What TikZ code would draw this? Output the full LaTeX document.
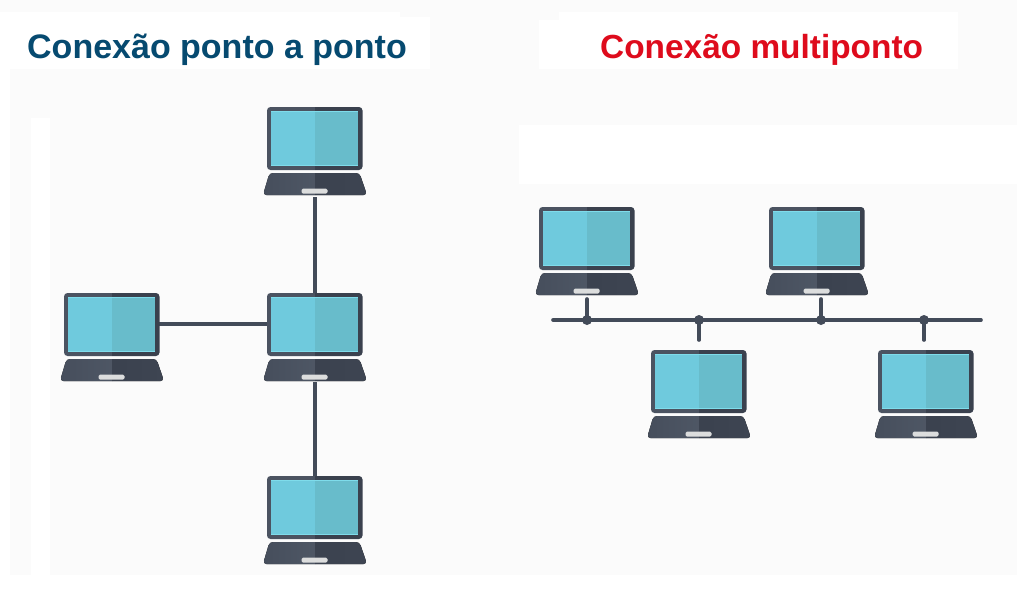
\documentclass[tikz,border=0pt]{standalone}
\usepackage{fontspec}
\setmainfont{Liberation Sans}
\usetikzlibrary{calc}
\definecolor{pagebg}{HTML}{FBFBFB}
\definecolor{wire}{HTML}{434B59}
\definecolor{frameL}{HTML}{4B5361}
\definecolor{frameR}{HTML}{3A414E}
\definecolor{baseLa}{HTML}{464E5C}
\definecolor{baseLb}{HTML}{565F6D}
\definecolor{baseRa}{HTML}{373E4B}
\definecolor{baseRb}{HTML}{3E4552}
\definecolor{screenL}{HTML}{6FCADD}
\definecolor{screenR}{HTML}{68BCCB}
\definecolor{screenEdge}{HTML}{7FDCEB}
\definecolor{padcol}{HTML}{DCDDDD}
\definecolor{titleblue}{HTML}{064A70}
\definecolor{titlered}{HTML}{DE0B1C}
\tikzset{
  wirelink/.style={draw=wire,line width=3.6pt,line cap=round},
  junction/.style={circle,fill=wire,draw=none,inner sep=0pt,minimum size=10pt},
  title/.style={anchor=base west,inner sep=0pt},
  hole/.style={fill=white,draw=none},
  anchorbox/.style={draw=none,inner sep=0pt,minimum width=102pt,minimum height=88pt},
  pics/laptop/.style={code={
    % origin: middle of the top edge of the screen
    \begin{scope}
      \clip (-60,-5) rectangle (0,100);
      \fill[frameL,rounded corners=3.5pt] (-48,0) rectangle (47.5,63);
      \fill[screenEdge] (-44,4) rectangle (43,59);
      \fill[screenL] (-44,5) rectangle (43,58);
      \fill[left color=baseLa,right color=baseLb,rounded corners=3.5pt]
        (-45.5,66) -- (44.5,66) -- (52,88) -- (-52,88) -- cycle;
    \end{scope}
    \begin{scope}
      \clip (0,-5) rectangle (60,100);
      \fill[frameR,rounded corners=3.5pt] (-48,0) rectangle (47.5,63);
      \fill[screenEdge] (-44,4) rectangle (43,59);
      \fill[screenR] (-44,5) rectangle (43,58);
      \fill[left color=baseRa,right color=baseRb,rounded corners=3.5pt]
        (-45.5,66) -- (44.5,66) -- (52,88) -- (-52,88) -- cycle;
    \end{scope}
    \fill[padcol,rounded corners=1.5pt] (-13.5,81.5) rectangle (12.5,86.5);
  }}
}
\begin{document}
\begin{tikzpicture}[x=1pt,y=-1pt]
\useasboundingbox (0,0) rectangle (1017,598);
% background panels
\fill[white] (0,0) rectangle (1017,598);
\fill[pagebg] (10,12) rectangle (1017,575);
\fill[pagebg] (0,0) rectangle (1017,12);
\fill[hole] (0,12) rectangle (400,69);
\fill[hole] (400,17) rectangle (430,69);
\fill[hole] (559,12) rectangle (958,20);
\fill[hole] (539,20) rectangle (958,69);
\fill[hole] (519,125) rectangle (1017,184);
\fill[hole] (31,118) rectangle (50,575);
% titles
\node[title,text=titleblue,font=\fontsize{34}{38}\selectfont\bfseries] (titleA) at (27,58) {Conexão ponto a ponto};
\node[title,text=titlered,font=\fontsize{33.4}{38}\selectfont\bfseries] (titleB) at (600,58) {Conexão multiponto};
% laptop positions
\node[anchorbox] (top)    at (315,151) {};
\node[anchorbox] (centre) at (315,337) {};
\node[anchorbox] (left)   at (112,337) {};
\node[anchorbox] (bottom) at (315,520) {};
\node[anchorbox] (m1) at (587,251) {};
\node[anchorbox] (m2) at (817,251) {};
\node[anchorbox] (m3) at (699,394) {};
\node[anchorbox] (m4) at (926,394) {};
% star connectors
\coordinate (lefteast) at (158,324);
\coordinate (centrewest) at (268,324);
\draw[wirelink,line cap=butt] ([yshift=-2pt]top.south) -- ([yshift=-2pt]centre.north);
\draw[wirelink,line cap=butt] (lefteast) -- (centrewest);
\draw[wirelink,line cap=butt] ([yshift=-1pt]centre.south) -- ([yshift=-2pt]bottom.north);
% laptops
\foreach \n/\x/\y in {top/315/107,centre/315/293,left/112/293,bottom/315/476,
                      m1/587/207,m2/817/207,m3/699/350,m4/926/350}
  \pic at (\x,\y) {laptop};
% bus
\coordinate (busL) at (553,320);
\coordinate (busR) at (981,320);
\coordinate (s1) at (587,299);
\coordinate (s2) at (699,340);
\coordinate (s3) at (821,299);
\coordinate (s4) at (924,340);
\node[junction] (j1) at (587,320) {};
\node[junction] (j2) at (699,320) {};
\node[junction] (j3) at (821,320) {};
\node[junction] (j4) at (924,320) {};
\draw[wirelink] (busL) -- (busR);
\draw[wirelink] (s1) -- (j1.center);
\draw[wirelink] (s2) -- (j2.center);
\draw[wirelink] (s3) -- (j3.center);
\draw[wirelink] (s4) -- (j4.center);
\end{tikzpicture}
\end{document}
